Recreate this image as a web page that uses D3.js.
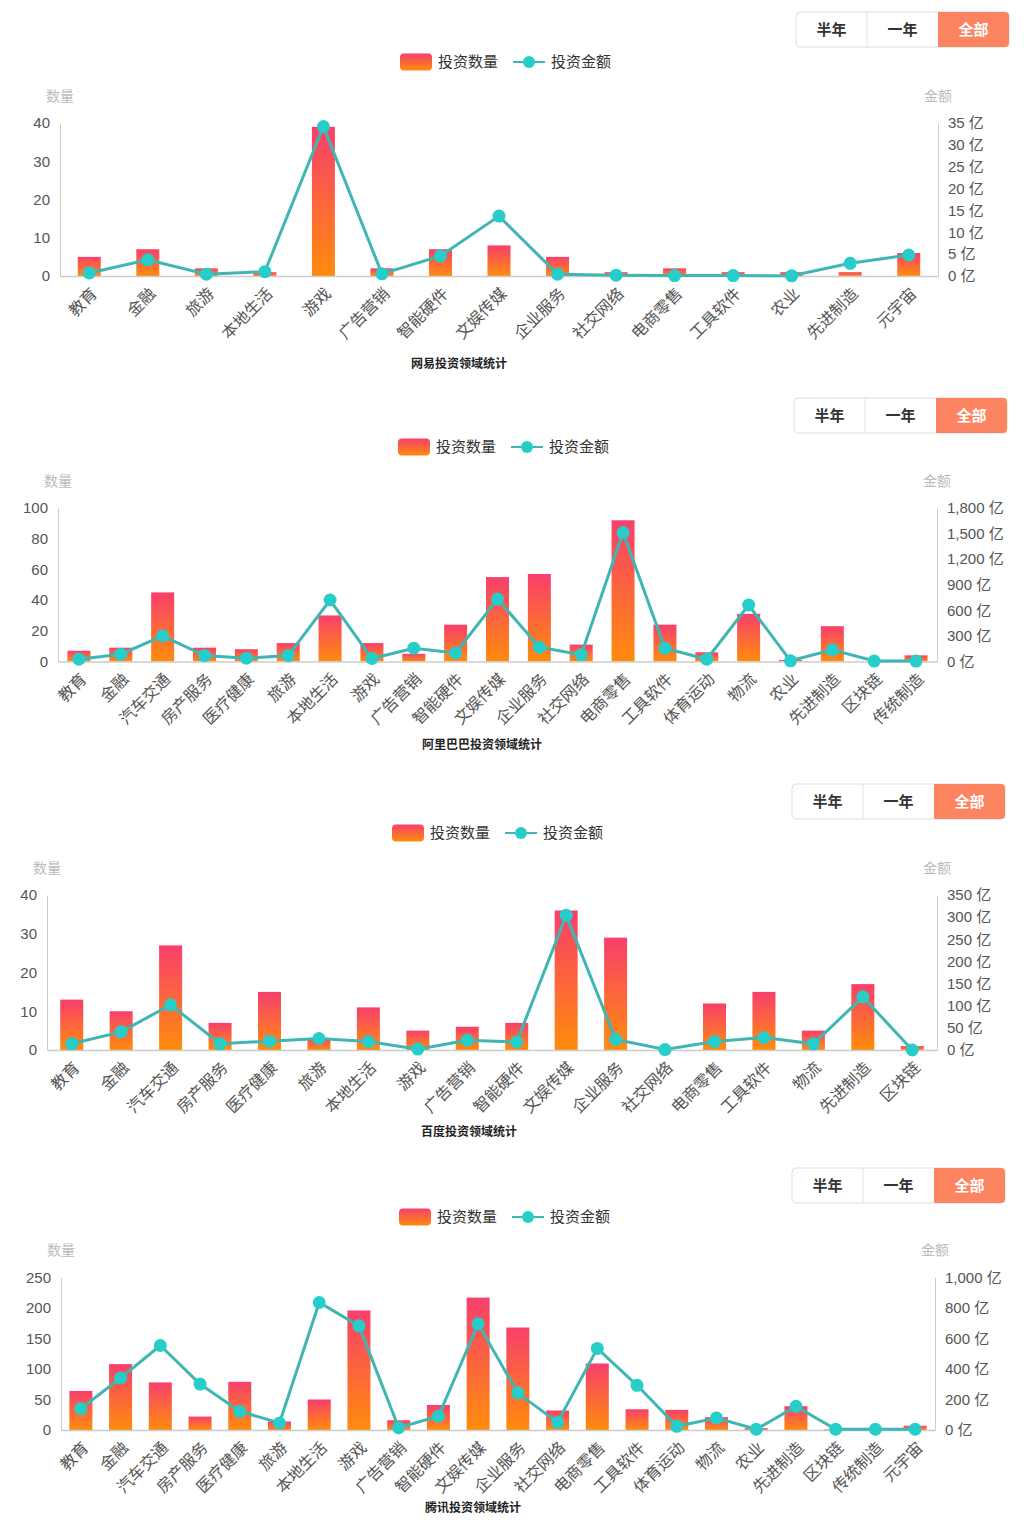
<!DOCTYPE html>
<html>
<head>
<meta charset="utf-8">
<script src="https://cdn.jsdelivr.net/npm/d3@7"></script>
<style>
    body { margin: 0; background: #fff; }
    svg { display: block; font-family: "Liberation Sans", "Noto Sans CJK SC", sans-serif; }
</style>
</head>
<body>
<div id="chart"></div>
<script>
// 网易
const wyCategories = ["教育", "金融", "旅游", "本地生活", "游戏", "广告营销", "智能硬件", "文娱传媒", "企业服务", "社交网络", "电商零售", "工具软件", "农业", "先进制造", "元宇宙"];
const wyCount = [5, 7, 2, 1, 39, 2, 7, 8, 5, 1, 2, 1, 1, 1, 6];
const wyAmount = [0.7, 3.7, 0.4, 1.0, 34.2, 0.5, 4.6, 13.7, 0.4, 0.2, 0.1, 0.1, 0.05, 2.9, 4.8];
const wyCountTicks = [0, 10, 20, 30, 40];
const wyAmountTicks = [0, 5, 10, 15, 20, 25, 30, 35];

// 阿里巴巴
const alCategories = ["教育", "金融", "汽车交通", "房产服务", "医疗健康", "旅游", "本地生活", "游戏", "广告营销", "智能硬件", "文娱传媒", "企业服务", "社交网络", "电商零售", "工具软件", "体育运动", "物流", "农业", "先进制造", "区块链", "传统制造"];
const alCount = [7, 9, 45, 9, 8, 12, 30, 12, 5, 24, 55, 57, 11, 92, 24, 6, 31, 1, 23, 0, 4];
const alAmount = [27, 86, 300, 70, 39, 70, 721, 35, 156, 101, 732, 168, 78, 1512, 156, 27, 662, 8, 136, 5, 5];
const alCountTicks = [0, 20, 40, 60, 80, 100];
const alAmountTicks = [0, 300, 600, 900, 1200, 1500, 1800];

// 百度
const bdCategories = ["教育", "金融", "汽车交通", "房产服务", "医疗健康", "旅游", "本地生活", "游戏", "广告营销", "智能硬件", "文娱传媒", "企业服务", "社交网络", "电商零售", "工具软件", "物流", "先进制造", "区块链"];
const bdCount = [13, 10, 27, 7, 15, 3, 11, 5, 6, 7, 36, 29, 0, 12, 15, 5, 17, 1];
const bdAmount = [14, 41, 102, 14, 20, 26, 19, 2, 22, 18, 304, 24, 1, 19, 28, 14, 120, 0];
const bdCountTicks = [0, 10, 20, 30, 40];
const bdAmountTicks = [0, 50, 100, 150, 200, 250, 300, 350];

// 腾讯
const txCategories = ["教育", "金融", "汽车交通", "房产服务", "医疗健康", "旅游", "本地生活", "游戏", "广告营销", "智能硬件", "文娱传媒", "企业服务", "社交网络", "电商零售", "工具软件", "体育运动", "物流", "农业", "先进制造", "区块链", "传统制造", "元宇宙"];
const txCount = [64, 108, 78, 22, 79, 14, 50, 196, 16, 41, 217, 168, 32, 109, 34, 33, 21, 3, 39, 1, 1, 7];
const txAmount = [140, 341, 554, 301, 122, 46, 836, 683, 15, 90, 696, 242, 50, 535, 293, 24, 79, 5, 155, 5, 5, 5];
const txCountTicks = [0, 50, 100, 150, 200, 250];
const txAmountTicks = [0, 200, 400, 600, 800, 1000];

const charts = [
    { title: "网易投资领域统计", categories: wyCategories, count: wyCount, amount: wyAmount, countTicks: wyCountTicks, amountTicks: wyAmountTicks,
      top: 123, bottom: 276, left: 60, right: 938, btnX: 796, btnY: 12, legendX: 400, legendY: 62, nameY: 96, titleX: 459, titleY: 364 },
    { title: "阿里巴巴投资领域统计", categories: alCategories, count: alCount, amount: alAmount, countTicks: alCountTicks, amountTicks: alAmountTicks,
      top: 508, bottom: 661.5, left: 58, right: 937, btnX: 794, btnY: 398, legendX: 398, legendY: 447, nameY: 481, titleX: 482, titleY: 745 },
    { title: "百度投资领域统计", categories: bdCategories, count: bdCount, amount: bdAmount, countTicks: bdCountTicks, amountTicks: bdAmountTicks,
      top: 895, bottom: 1050, left: 47, right: 937, btnX: 792, btnY: 784, legendX: 392, legendY: 833, nameY: 868, titleX: 469, titleY: 1132 },
    { title: "腾讯投资领域统计", categories: txCategories, count: txCount, amount: txAmount, countTicks: txCountTicks, amountTicks: txAmountTicks,
      top: 1277.5, bottom: 1430, left: 61, right: 935, btnX: 792, btnY: 1168, legendX: 399, legendY: 1217, nameY: 1250, titleX: 473, titleY: 1508 }
];

const svg = d3.select("#chart").append("svg")
    .attr("width", 1024)
    .attr("height", 1528);

const defs = svg.append("defs");
const grad = defs.append("linearGradient")
    .attr("id", "barGrad")
    .attr("x1", 0).attr("y1", 0).attr("x2", 0).attr("y2", 1);
grad.append("stop").attr("offset", "0%").attr("stop-color", "#f83f6c");
grad.append("stop").attr("offset", "100%").attr("stop-color", "#ff8c0c");

const lineColor = "#3fb6b3";
const dotColor = "#27cec9";
const labelColor = "#555";

function drawButtons(c) {
    const g = svg.append("g").attr("transform", `translate(${c.btnX},${c.btnY})`);
    const labels = ["半年", "一年", "全部"];
    const w = 71, h = 35;
    g.append("rect")
        .attr("width", w * 3).attr("height", h)
        .attr("rx", 4)
        .style("fill", "#fff")
        .style("stroke", "#ddd");
    // active button
    g.append("path")
        .attr("d", `M${w * 2},0 H${w * 3 - 4} Q${w * 3},0 ${w * 3},4 V${h - 4} Q${w * 3},${h} ${w * 3 - 4},${h} H${w * 2} Z`)
        .style("fill", "#fd8461");
    g.append("line")
        .attr("x1", w).attr("x2", w).attr("y1", 0).attr("y2", h)
        .style("stroke", "#e3e3e3");
    labels.forEach((t, i) => {
        g.append("text")
            .attr("x", w * i + w / 2)
            .attr("y", h / 2 + 5)
            .style("text-anchor", "middle")
            .style("font-size", "15px")
            .style("font-weight", "bold")
            .style("font-family", "Noto Sans CJK SC")
            .style("fill", i === 2 ? "#fff" : "#333")
            .text(t);
    });
}

function drawLegend(c) {
    const g = svg.append("g").attr("transform", `translate(${c.legendX},${c.legendY})`);
    g.append("rect")
        .attr("x", 0).attr("y", -8.5)
        .attr("width", 32).attr("height", 17)
        .attr("rx", 4)
        .style("fill", "url(#barGrad)");
    g.append("text")
        .attr("x", 38).attr("y", 5)
        .style("font-size", "15px")
        .style("font-family", "Noto Sans CJK SC")
        .style("fill", "#333")
        .text("投资数量");
    g.append("line")
        .attr("x1", 113).attr("x2", 145)
        .style("stroke", lineColor).style("stroke-width", 2);
    g.append("circle")
        .attr("cx", 129).attr("r", 6)
        .style("fill", dotColor);
    g.append("text")
        .attr("x", 151).attr("y", 5)
        .style("font-size", "15px")
        .style("font-family", "Noto Sans CJK SC")
        .style("fill", "#333")
        .text("投资金额");
}

function drawChart(c) {
    drawButtons(c);
    drawLegend(c);

    const x = d3.scaleBand()
        .domain(c.categories)
        .range([c.left, c.right]);

    const yCount = d3.scaleLinear()
        .domain([0, d3.max(c.countTicks)])
        .range([c.bottom, c.top]);

    const yAmount = d3.scaleLinear()
        .domain([0, d3.max(c.amountTicks)])
        .range([c.bottom, c.top]);

    const g = svg.append("g");

    // axis names
    g.append("text")
        .attr("x", c.left).attr("y", c.nameY + 5)
        .style("text-anchor", "middle")
        .style("font-size", "14px")
        .style("font-family", "Noto Sans CJK SC")
        .style("fill", "#bbb")
        .text("数量");
    g.append("text")
        .attr("x", c.right).attr("y", c.nameY + 5)
        .style("text-anchor", "middle")
        .style("font-size", "14px")
        .style("font-family", "Noto Sans CJK SC")
        .style("fill", "#bbb")
        .text("金额");

    // left axis
    const leftAxis = g.append("g")
        .attr("transform", `translate(${c.left},0)`)
        .call(d3.axisLeft(yCount).tickValues(c.countTicks).tickSize(0).tickPadding(10));
    leftAxis.select(".domain").style("stroke", "#ccc");
    leftAxis.selectAll("text").style("font-size", "15px").style("fill", labelColor);

    // right axis
    const rightAxis = g.append("g")
        .attr("transform", `translate(${c.right},0)`)
        .call(d3.axisRight(yAmount).tickValues(c.amountTicks).tickSize(0).tickPadding(10)
            .tickFormat(d => d3.format(",")(d) + " 亿"));
    rightAxis.select(".domain").style("stroke", "#ccc");
    rightAxis.selectAll("text")
        .style("font-size", "15px")
        .style("fill", labelColor)
        .style("font-family", "Liberation Sans, Noto Sans CJK SC");

    // bars
    const barW = 23;
    g.selectAll(".bar")
        .data(c.categories)
        .enter().append("rect")
        .attr("class", "bar")
        .attr("x", d => x(d) + x.bandwidth() / 2 - barW / 2)
        .attr("width", barW)
        .attr("y", (d, i) => yCount(c.count[i]))
        .attr("height", (d, i) => c.bottom - yCount(c.count[i]))
        .style("fill", "url(#barGrad)");

    // x axis
    const bottomAxis = g.append("g")
        .attr("transform", `translate(0,${c.bottom})`)
        .call(d3.axisBottom(x).tickSize(0).tickPadding(0));
    bottomAxis.select(".domain").style("stroke", "#ccc").style("stroke-width", 1.5);
    bottomAxis.selectAll("text")
        .style("font-size", "16px")
        .style("font-family", "Noto Sans CJK SC")
        .style("fill", labelColor)
        .style("text-anchor", "end")
        .attr("dy", 0)
        .attr("transform", "translate(-2,8) rotate(-45)")
        .attr("y", 0)
        .attr("x", 0)
        .attr("dominant-baseline", "hanging");

    // line
    const line = d3.line()
        .x(d => x(d) + x.bandwidth() / 2)
        .y((d, i) => yAmount(c.amount[i]));
    g.append("path")
        .datum(c.categories)
        .attr("d", line)
        .style("fill", "none")
        .style("stroke", lineColor)
        .style("stroke-width", 3);

    g.selectAll(".dot")
        .data(c.categories)
        .enter().append("circle")
        .attr("class", "dot")
        .attr("cx", d => x(d) + x.bandwidth() / 2)
        .attr("cy", (d, i) => yAmount(c.amount[i]))
        .attr("r", 6.5)
        .style("fill", dotColor);

    // title
    g.append("text")
        .attr("x", c.titleX).attr("y", c.titleY + 4)
        .style("text-anchor", "middle")
        .style("font-size", "12px")
        .style("font-weight", "bold")
        .style("font-family", "Noto Sans CJK SC")
        .style("fill", "#222")
        .text(c.title);
}

charts.forEach(drawChart);
</script>
</body>
</html>
